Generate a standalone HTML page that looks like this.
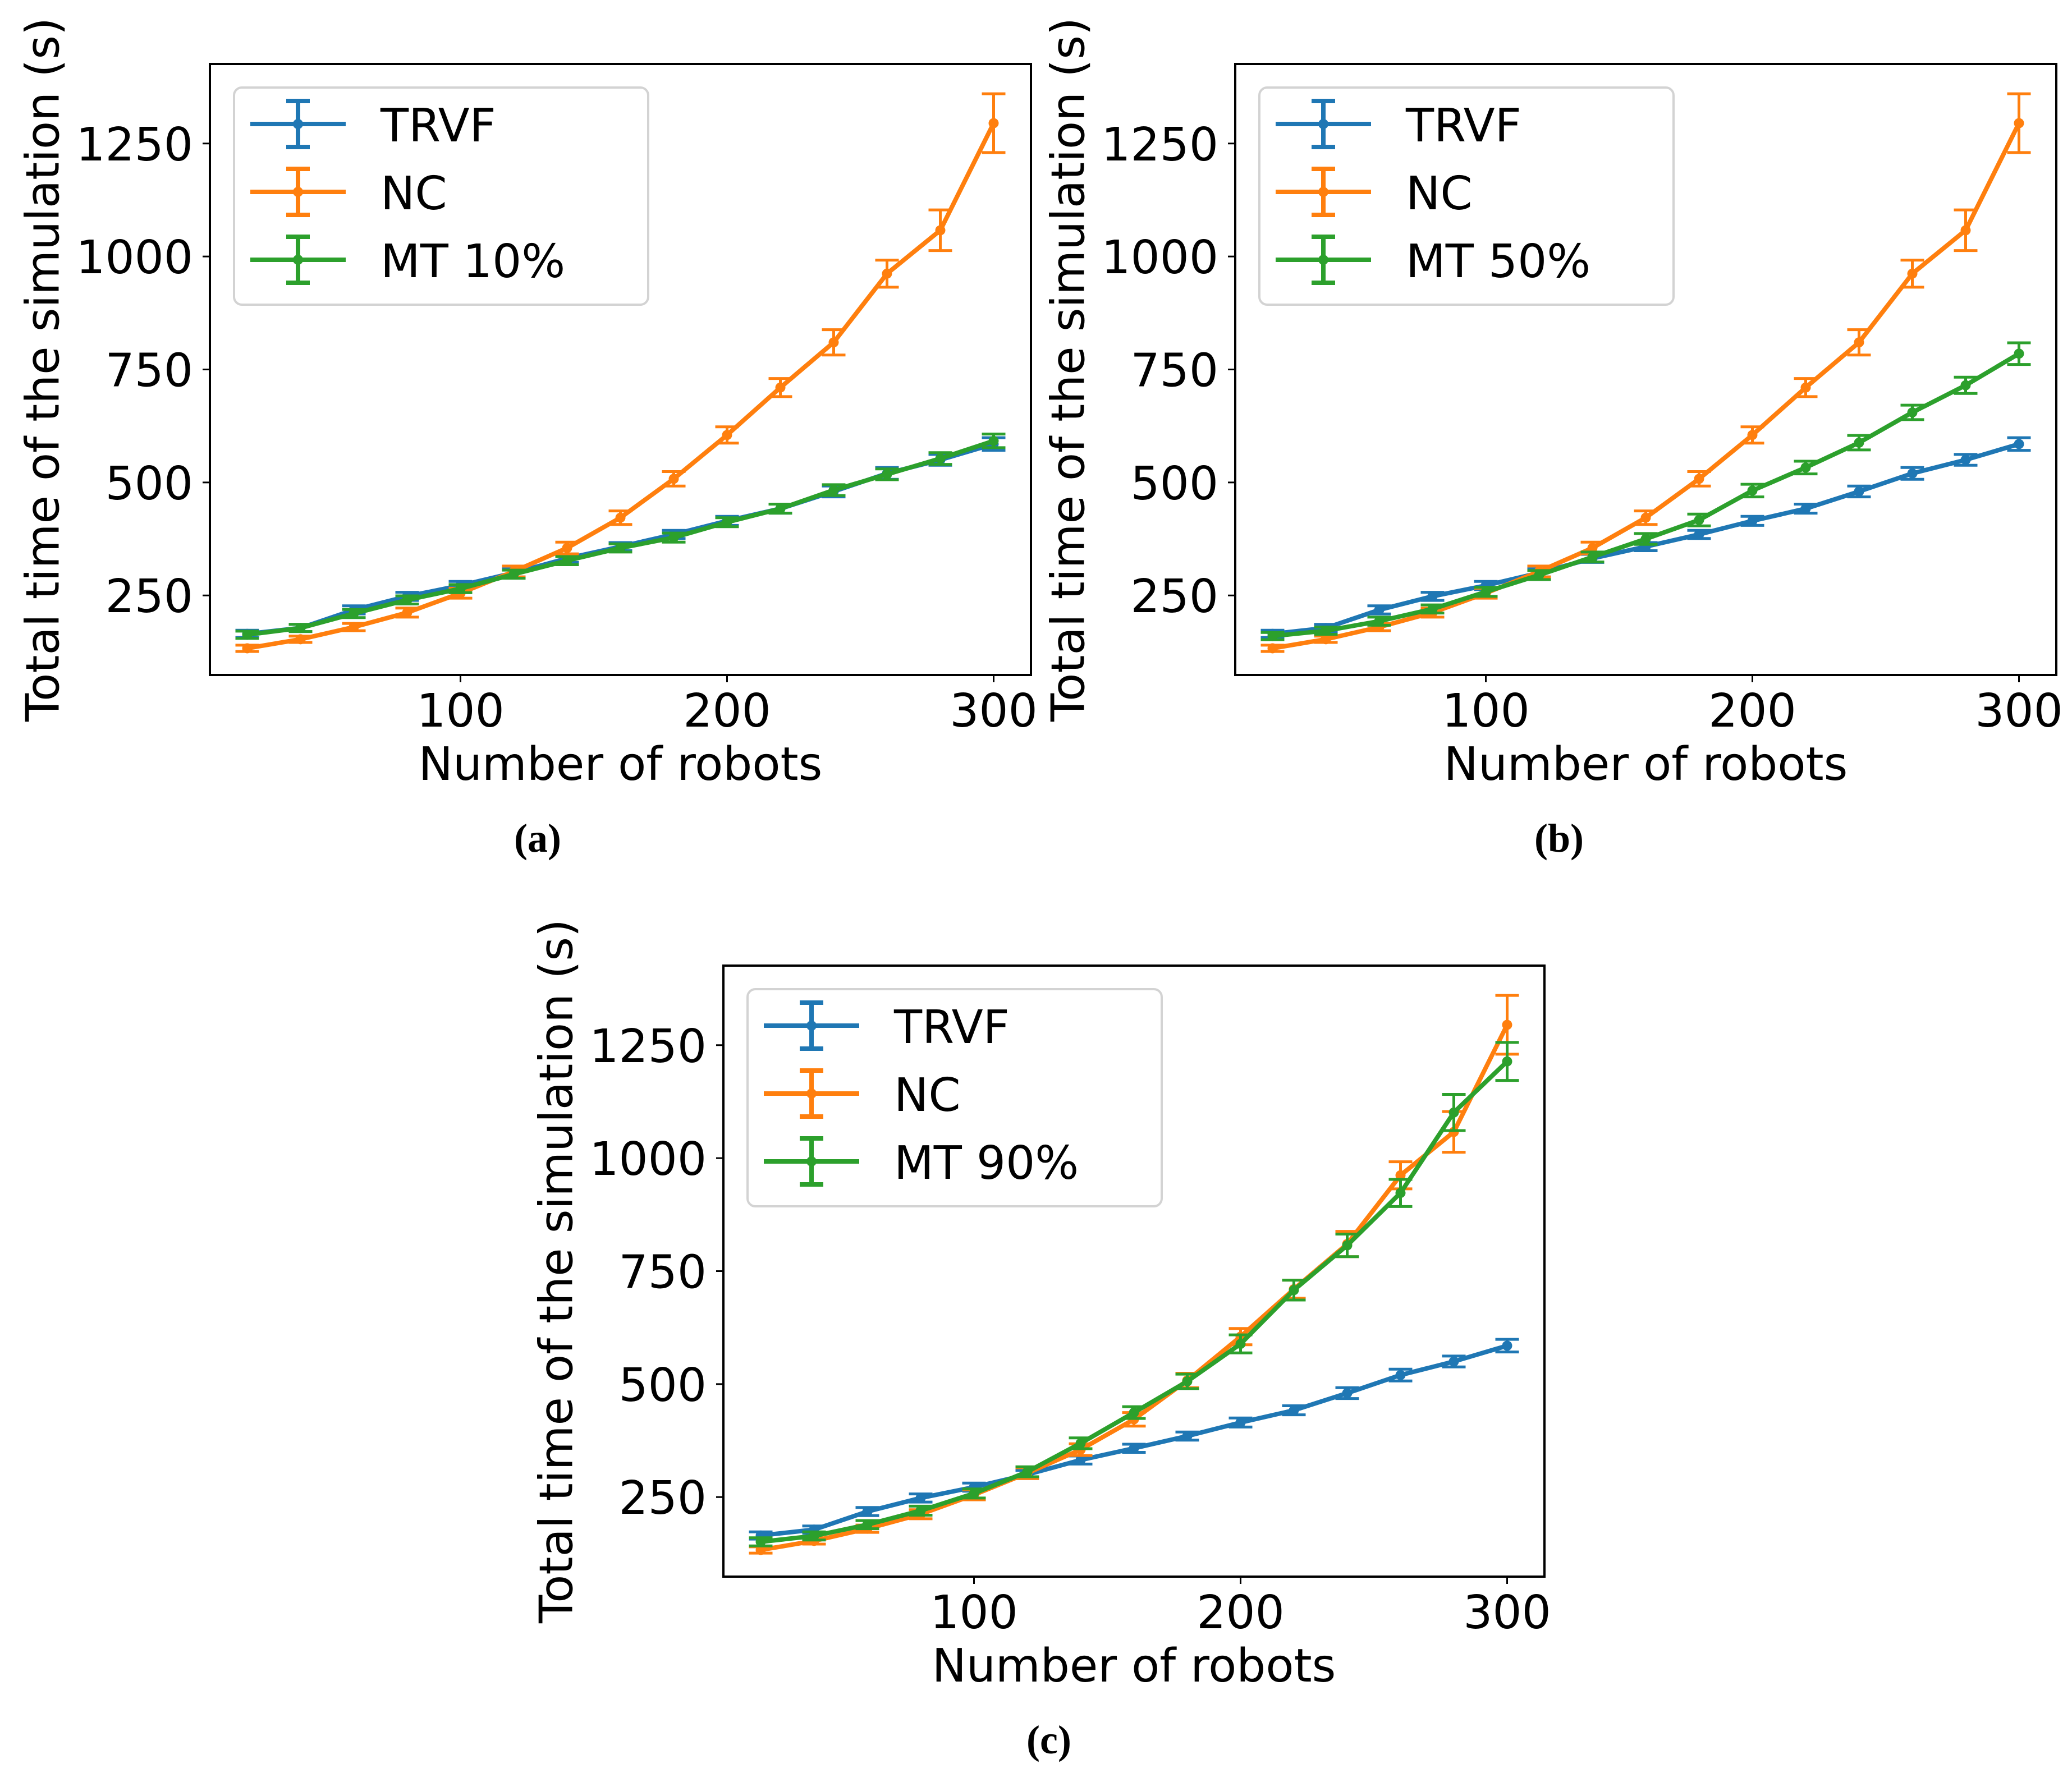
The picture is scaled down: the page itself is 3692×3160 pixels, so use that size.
<!DOCTYPE html>
<html><head><meta charset="utf-8"><style>
html,body{margin:0;padding:0;background:#fff;}
svg text{font-family:"DejaVu Sans","Liberation Sans",sans-serif;fill:#000;}
</style></head><body>
<svg id="fig" xmlns="http://www.w3.org/2000/svg" width="3692" height="3155" viewBox="0 0 3692 3155"></svg>
<script>
const robots = [20,40,60,80,100,120,140,160,180,200,220,240,260,280,300];
const trvfVals = [165,178,218,248,272,300,332,358,385,415,442,480,520,550,585];
const trvfErr  = [8,8,9,9,9,9,9,9,9,10,10,12,13,12,14];
const ncVals   = [133,153,180,212,255,303,355,422,508,605,710,810,962,1058,1295];
const ncErr    = [7,7,8,10,11,12,13,15,16,18,20,28,30,45,65];
const mt10Vals = [163,178,210,240,265,297,327,355,378,412,442,483,518,553,592];
const mt10Err  = [8,8,9,9,9,9,9,9,10,10,10,12,12,13,15];
const mt50Vals = [160,172,193,220,258,295,335,375,417,482,533,588,655,715,785];
const mt50Err  = [8,8,9,9,10,10,11,12,13,14,14,16,16,18,24];
const mt90Vals = [151,164,189,220,258,306,369,437,506,589,708,807,923,1101,1214];
const mt90Err  = [9,9,9,10,10,11,12,13,16,20,22,25,30,40,42];
const yTicks = [250,500,750,1000,1250];
const xTicks = [100,200,300];
const panels = [
  {id:'a', L:374, T:114, mt:mt10Vals, mtErr:mt10Err, mtLabel:'MT 10%', capX:958},
  {id:'b', L:2201, T:114, mt:mt50Vals, mtErr:mt50Err, mtLabel:'MT 50%', capX:2778},
  {id:'c', L:1289, T:1721, mt:mt90Vals, mtErr:mt90Err, mtLabel:'MT 90%', capX:1869}
];
const NS='http://www.w3.org/2000/svg';
const svg=document.getElementById('fig');
const W=1463,H=1089,X0=6,X1=314,Y0=74,Y1=1426;
function mk(tag,attrs,parent){const e=document.createElementNS(NS,tag);for(const k in attrs)e.setAttribute(k,attrs[k]);parent.appendChild(e);return e;}
panels.forEach(p=>{
  const g=mk('g',{},svg);
  
  
  const sx=v=>p.L+(v-X0)/(X1-X0)*W;
  const sy=v=>p.T+(Y1-v)/(Y1-Y0)*H;
  const series=[
    {name:'trvf',vals:trvfVals,err:trvfErr,col:'#1f77b4',label:'TRVF'},
    {name:'nc',vals:ncVals,err:ncErr,col:'#ff7f0e',label:'NC'},
    {name:'mt',vals:p.mt,err:p.mtErr,col:'#2ca02c',label:p.mtLabel}
  ];
  series.forEach(s=>{
    const sg=mk('g',{},g);
    
    
    robots.forEach((x,i)=>{
      const cx=sx(x),top=sy(s.vals[i]+s.err[i]),bot=sy(s.vals[i]-s.err[i]);
      const eb=mk('path',{d:`M${cx},${top}V${bot}M${cx-21},${top}H${cx+21}M${cx-21},${bot}H${cx+21}`,stroke:s.col,'stroke-width':5,fill:'none'},sg);
      
      
    });
    const pts=robots.map((x,i)=>sx(x)+','+sy(s.vals[i])).join(' ');
    const ln=mk('polyline',{points:pts,stroke:s.col,'stroke-width':8,fill:'none','stroke-linejoin':'round'},sg);
    
    
    robots.forEach((x,i)=>{
      const c=mk('circle',{cx:sx(x),cy:sy(s.vals[i]),r:9,fill:s.col},sg);
      
      
    });
  });
  const frame=mk('rect',{x:p.L,y:p.T,width:W,height:H,fill:'none',stroke:'#000','stroke-width':4},g);
  
  
  yTicks.forEach(v=>{
    const y=sy(v);
    const t=mk('line',{x1:p.L-13,x2:p.L,y1:y,y2:y,stroke:'#000','stroke-width':3},g);
    
    
    const tx=mk('text',{x:p.L-30,y:y+30,'font-size':82,'text-anchor':'end'},g);
    tx.textContent=v;
    
    
  });
  xTicks.forEach(v=>{
    const x=sx(v);
    const t=mk('line',{x1:x,x2:x,y1:p.T+H,y2:p.T+H+13,stroke:'#000','stroke-width':3},g);
    
    
    const tx=mk('text',{x:x,y:p.T+H+92,'font-size':82,'text-anchor':'middle'},g);
    tx.textContent=v;
    
    
  });
  const xl=mk('text',{x:p.L+W/2,y:p.T+H+187,'font-size':82,'text-anchor':'middle'},g);
  xl.textContent='Number of robots';
  
  
  const yx=p.L-297,yy=p.T+H/2;
  const yl=mk('text',{x:yx,y:yy,'font-size':82,'text-anchor':'middle','dominant-baseline':'central',transform:`rotate(-90 ${yx} ${yy})`},g);
  yl.textContent='Total time of the simulation (s)';
  
  
  const cap=mk('text',{x:p.capX,y:p.T+H+315,'font-size':72,'font-weight':'bold','text-anchor':'middle',style:'font-family:"Liberation Serif",serif'},g);
  cap.textContent='('+p.id+')';
  
  
  const lg=mk('g',{},g);
  
  
  const lx=p.L+43,ly=p.T+42;
  mk('rect',{x:lx,y:ly,width:738,height:387,rx:14,fill:'#fff','fill-opacity':0.8,stroke:'#d3d3d3','stroke-width':4},lg);
  series.forEach((s,i)=>{
    const eg=mk('g',{},lg);
    
    
    const cy=ly+65+i*121,cx=lx+114;
    mk('path',{d:`M${cx-85},${cy}H${cx+85}M${cx},${cy-41}V${cy+41}M${cx-21},${cy-41}H${cx+21}M${cx-21},${cy+41}H${cx+21}`,stroke:s.col,'stroke-width':8,fill:'none'},eg);
    mk('circle',{cx:cx,cy:cy,r:9,fill:s.col},eg);
    const t=mk('text',{x:lx+261,y:cy+31,'font-size':82},eg);
    t.textContent=s.label;
  });
});
</script>
</body></html>
